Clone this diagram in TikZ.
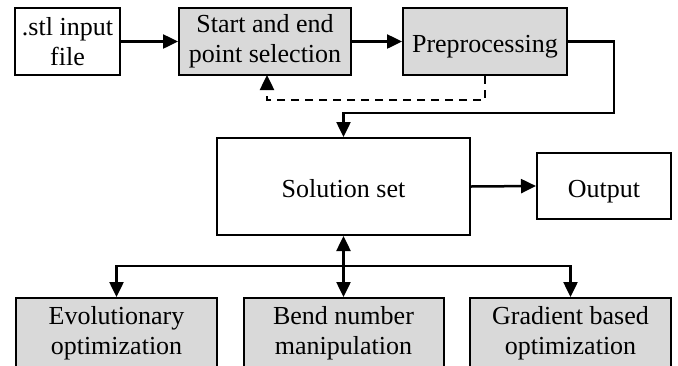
\documentclass[tikz,border=0pt]{standalone}
\usepackage{fontspec}
\setmainfont{Liberation Serif}
\usetikzlibrary{arrows.meta}
\definecolor{boxgray}{HTML}{D9D9D9}
\tikzset{
  box/.style={draw=black, line width=2pt, rectangle, inner sep=0pt, align=center,
    font=\fontsize{26}{30}\selectfont},
  graybox/.style={box, fill=boxgray},
  oneline/.style={text height=22pt, text depth=0pt},
  conn/.style={line width=2.5pt, -{Triangle[length=15pt,width=14pt]}},
  dashconn/.style={line width=2.5pt, dash pattern=on 8pt off 6pt, -{Triangle[length=15pt,width=14pt]}}
}
\begin{document}
\begin{tikzpicture}[x=1pt,y=-1pt]
\useasboundingbox (0,0) rectangle (678,365);
\clip (0,0) rectangle (678,365);
\node[box, minimum width=105pt, minimum height=67pt] (stl) at (67.5,41.5) {.stl input\\file};
\node[graybox, minimum width=172pt, minimum height=67pt] (start) at (265,41.5) {Start and end\\point selection};
\node[graybox, oneline, minimum width=164pt, minimum height=67pt] (prep) at (485,41.5) {Preprocessing};
\node[box, oneline, minimum width=253pt, minimum height=97pt] (sol) at (343.5,186.5) {Solution set};
\node[box, oneline, minimum width=134pt, minimum height=66pt] (out) at (604,186) {Output};
\node[graybox, minimum width=201pt, minimum height=70pt] (evo) at (116.5,333) {Evolutionary\\optimization};
\node[graybox, minimum width=200pt, minimum height=70pt] (bend) at (343.5,333) {Bend number\\manipulation};
\node[graybox, minimum width=201pt, minimum height=70pt] (grad) at (570.5,333) {Gradient based\\optimization};
\coordinate (turnA) at (614,41.5);
\coordinate (turnB) at (614,113);
\coordinate (turnC) at (343.5,113);
\coordinate (dashturn) at (485,100);
\coordinate (dashend) at (267,75);
\coordinate (branch) at (343.5,266);
\draw[conn] (stl.east) -- (start.west);
\draw[conn] (start.east) -- (prep.west);
\draw[conn] (prep.east) -- (turnA) -- (turnB) -- (turnC) -- (sol.north);
\draw[dashconn] (prep.south) -- (dashturn) -| (dashend);
\draw[conn] (sol.east) -- (out.west);
\draw[line width=2.5pt, {Triangle[length=15pt,width=14pt]}-{Triangle[length=15pt,width=14pt]}] (sol.south) -- (bend.north);
\draw[conn] (branch) -| (evo.north);
\draw[conn] (branch) -| (grad.north);
\end{tikzpicture}
\end{document}
